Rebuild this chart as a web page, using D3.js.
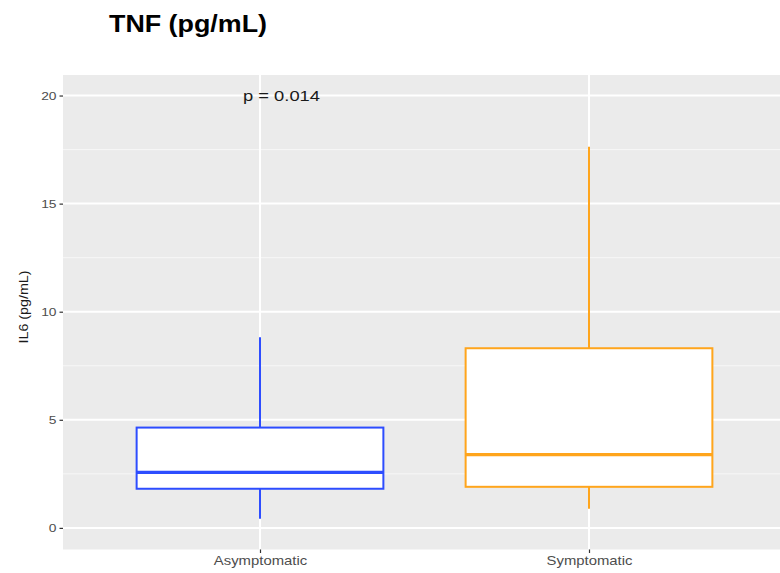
<!DOCTYPE html>
<html>
<head>
<meta charset="utf-8">
<script src="https://cdn.jsdelivr.net/npm/d3@7"></script>
<style>
  html, body { margin: 0; padding: 0; background: #fff; }
  svg { display: block; font-family: "Liberation Sans", Arial, sans-serif; }
</style>
</head>
<body>
<svg id="chart" width="780" height="573"></svg>
<script>
// ---- data ----
const categories = ["Asymptomatic", "Symptomatic"];
const whiskerLow = [0.42, 0.88];
const q1 = [1.81, 1.90];
const median = [2.57, 3.39];
const q3 = [4.64, 8.31];
const whiskerHigh = [8.82, 17.63];
const boxColors = ["#2d4dff", "#ffa51c"];
const yTicks = [0, 5, 10, 15, 20];
const yMinorTicks = [2.5, 7.5, 12.5, 17.5];
const title = "TNF (pg/mL)";
const yTitle = "IL6 (pg/mL)";
const pLabel = "p = 0.014";

// ---- layout ----
const svg = d3.select("#chart");
const panel = { left: 63, top: 75, right: 786, bottom: 549.5 };

const x = d3.scalePoint()
  .domain(categories)
  .range([260, 589]);
const step = x(categories[1]) - x(categories[0]);
const boxW = 0.75 * step;

const y = d3.scaleLinear()
  .domain([-1.0, 20.95])
  .range([panel.bottom, panel.top]);

// panel background
svg.append("rect")
  .attr("x", panel.left).attr("y", panel.top)
  .attr("width", panel.right - panel.left)
  .attr("height", panel.bottom - panel.top)
  .attr("fill", "#EBEBEB");

// minor grid
svg.append("g").selectAll("line").data(yMinorTicks).join("line")
  .attr("x1", panel.left).attr("x2", panel.right)
  .attr("y1", d => y(d)).attr("y2", d => y(d))
  .attr("stroke", "#F7F7F7").attr("stroke-width", 1);

// major grid
svg.append("g").selectAll("line").data(yTicks).join("line")
  .attr("x1", panel.left).attr("x2", panel.right)
  .attr("y1", d => y(d)).attr("y2", d => y(d))
  .attr("stroke", "#FFFFFF").attr("stroke-width", 2);
svg.append("g").selectAll("line").data(categories).join("line")
  .attr("x1", d => x(d)).attr("x2", d => x(d))
  .attr("y1", panel.top).attr("y2", panel.bottom)
  .attr("stroke", "#FFFFFF").attr("stroke-width", 2);

// boxplots
const boxes = svg.append("g").selectAll("g").data(categories).join("g");
boxes.append("line")
  .attr("x1", d => x(d)).attr("x2", d => x(d))
  .attr("y1", (d, i) => y(q3[i])).attr("y2", (d, i) => y(whiskerHigh[i]))
  .attr("stroke", (d, i) => boxColors[i]).attr("stroke-width", 2);
boxes.append("line")
  .attr("x1", d => x(d)).attr("x2", d => x(d))
  .attr("y1", (d, i) => y(q1[i])).attr("y2", (d, i) => y(whiskerLow[i]))
  .attr("stroke", (d, i) => boxColors[i]).attr("stroke-width", 2);
boxes.append("rect")
  .attr("x", d => x(d) - boxW / 2)
  .attr("width", boxW)
  .attr("y", (d, i) => y(q3[i]))
  .attr("height", (d, i) => y(q1[i]) - y(q3[i]))
  .attr("fill", "#FFFFFF")
  .attr("stroke", (d, i) => boxColors[i]).attr("stroke-width", 2);
boxes.append("line")
  .attr("x1", d => x(d) - boxW / 2).attr("x2", d => x(d) + boxW / 2)
  .attr("y1", (d, i) => y(median[i])).attr("y2", (d, i) => y(median[i]))
  .attr("stroke", (d, i) => boxColors[i]).attr("stroke-width", 3.2);

// y axis
const yAxis = svg.append("g")
  .attr("transform", `translate(${panel.left},0)`)
  .call(d3.axisLeft(y).tickValues(yTicks).tickSize(3.5).tickPadding(3).tickFormat(d3.format("d")));
yAxis.select(".domain").remove();
yAxis.selectAll(".tick line").attr("stroke", "#333333").attr("stroke-width", 1.2);
yAxis.selectAll(".tick text")
  .attr("fill", "#4D4D4D").attr("font-size", 11.5)
  .attr("font-family", "Liberation Sans, Arial, sans-serif")
  .each(function() {
    const t = d3.select(this);
    const xx = +t.attr("x");
    t.attr("x", null).attr("transform", `translate(${xx},0) scale(1.2,1)`);
  });

// x axis
const xAxis = svg.append("g")
  .attr("transform", `translate(0,${panel.bottom})`)
  .call(d3.axisBottom(x).tickSize(3.5).tickPadding(4));
xAxis.select(".domain").remove();
xAxis.selectAll(".tick line").attr("stroke", "#333333").attr("stroke-width", 1.2);
xAxis.selectAll(".tick text")
  .attr("fill", "#4D4D4D").attr("font-size", 12)
  .attr("font-family", "Liberation Sans, Arial, sans-serif")
  .attr("dy", null).attr("y", 15.5)
  .each(function() {
    d3.select(this).attr("transform", "scale(1.24,1)").attr("x", 0);
  });
// keep labels centred under ticks after scaling: wrap in own group transforms
xAxis.selectAll(".tick").each(function() {
  const tk = d3.select(this);
  tk.select("text").attr("transform", "scale(1.24,1)");
});

// y title
svg.append("text")
  .attr("transform", "translate(28,307) rotate(-90)")
  .attr("text-anchor", "middle")
  .attr("font-size", 13)
  .attr("textLength", 73)
  .attr("lengthAdjust", "spacingAndGlyphs")
  .attr("fill", "#1a1a1a")
  .text(yTitle);

// p label
svg.append("text")
  .attr("x", 243)
  .attr("y", y(20) + 5.5)
  .attr("font-size", 14.5)
  .attr("textLength", 77)
  .attr("lengthAdjust", "spacingAndGlyphs")
  .attr("fill", "#1a1a1a")
  .text(pLabel);

// title
svg.append("text")
  .attr("x", 109)
  .attr("y", 32)
  .attr("font-size", 23)
  .attr("font-weight", "bold")
  .attr("textLength", 158)
  .attr("lengthAdjust", "spacingAndGlyphs")
  .attr("fill", "#000")
  .text(title);
</script>
</body>
</html>
